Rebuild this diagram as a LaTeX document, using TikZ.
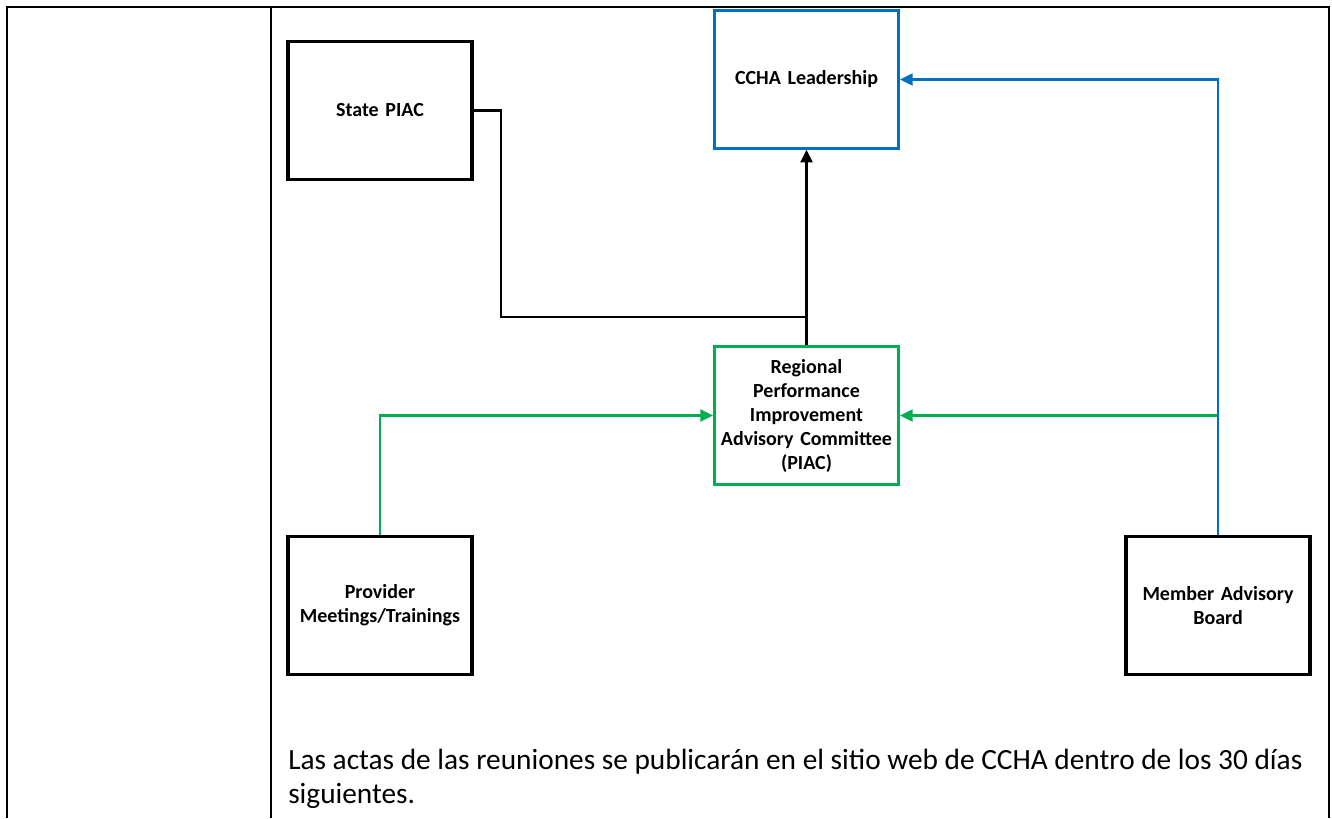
\documentclass[tikz,border=0pt]{standalone}
\usepackage{fontspec}
\setmainfont{Carlito}
\usetikzlibrary{arrows.meta}
\definecolor{cblue}{RGB}{0,112,192}
\definecolor{cgreen}{RGB}{0,176,80}
\begin{document}
\begin{tikzpicture}[x=0.75pt,y=-0.75pt,
  tbl/.style={line width=2.1pt},
  boxnode/.style={draw=black,line width=2.3pt,minimum width=138pt,minimum height=103pt,
    align=center,font=\fontsize{15}{18}\selectfont\bfseries,text width=130pt,inner sep=0pt},
  conn/.style={line width=1.7pt},
  tip/.style={-{Triangle[length=9.5pt,width=9pt]}}]
\useasboundingbox (0,0) rectangle (1332,818);
% table frame
\draw[tbl] (7,818) -- (7,7) -- (1329,7) -- (1329,818);
\draw[tbl] (271,7) -- (271,818);
% boxes
\node[boxnode] (state) at (380,110.5) {State PIAC};
\node[boxnode,draw=cblue] (ccha) at (806.5,79.5) {CCHA Leadership};
\node[boxnode,draw=cgreen] (reg) at (806.5,415.5) {Regional\\Performance\\Improvement\\Advisory Committee\\(PIAC)};
\node[boxnode] (prov) at (380,605.5) {Provider\\Meetings/Trainings};
\node[boxnode] (memb) at (1218,605.5) {Member Advisory\\Board};
% connectors
\coordinate (sbend) at (501,317);
\coordinate (join) at (806.5,317);
\draw[conn] (state.east) -| (sbend) -- (join);
\draw[conn,tip] (reg.north) -- (ccha.south);
\draw[conn,cgreen,tip] (prov.north) |- (reg.west);
\draw[conn,cgreen,tip] (memb.north |- reg.east) -- (reg.east);
\draw[conn,cblue,tip] (memb.north) |- (ccha.east);
% text
\node[anchor=base west,align=left,inner sep=0pt,font=\fontsize{22}{25}\selectfont] (txt) at (288,803)
  {Las actas de las reuniones se publicarán en el sitio web de CCHA dentro de los 30 días\\siguientes.};
\end{tikzpicture}
\end{document}
